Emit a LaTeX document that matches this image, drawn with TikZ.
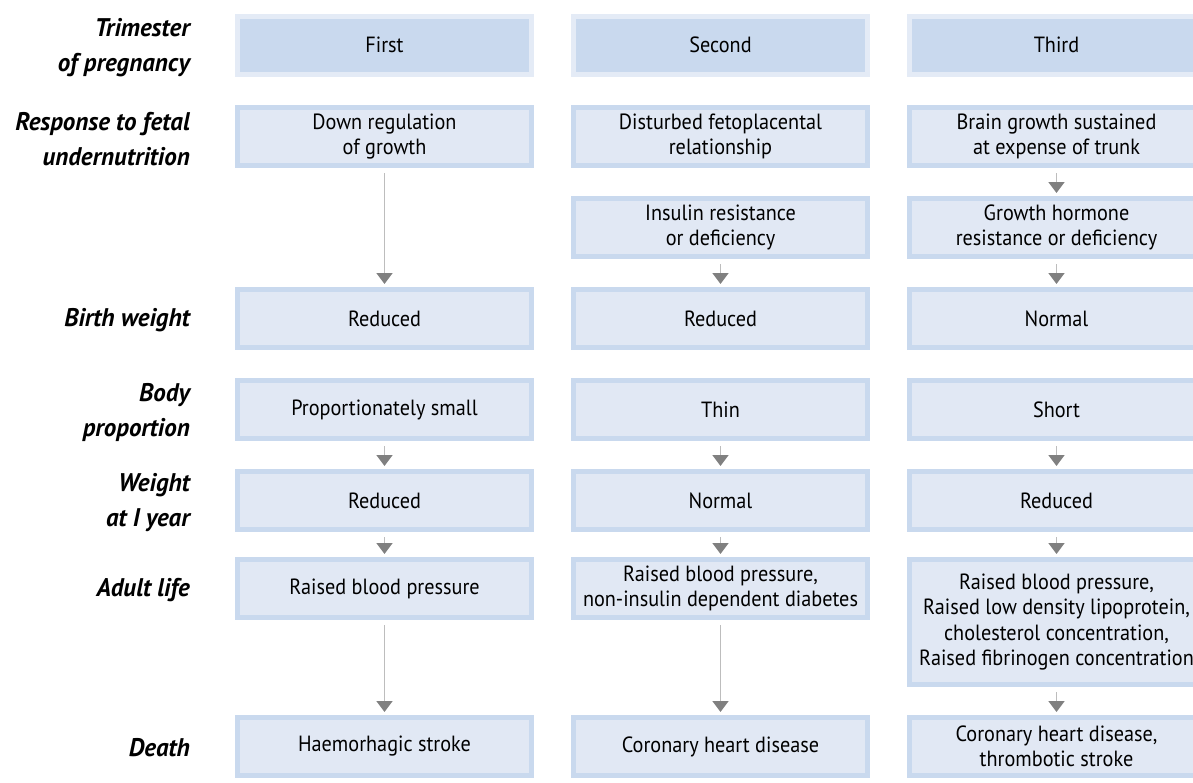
\documentclass[tikz,border=0pt]{standalone}
\usepackage{fontspec}
\setmainfont{PT Sans}[FakeStretch=0.92]
\newfontfamily\lblfont{PT Sans}[FakeStretch=0.98]
\usetikzlibrary{arrows.meta}
\definecolor{hdrfill}{HTML}{C9D9EE}
\definecolor{hdrring}{HTML}{E4EBF6}
\definecolor{cellfill}{HTML}{E1E8F4}
\definecolor{cellring}{HTML}{C9D9EE}
\definecolor{arrline}{HTML}{BDBDBD}
\definecolor{arrhead}{HTML}{808080}
\tikzset{
  basebox/.style={rectangle, minimum width=294pt, minimum height=58pt, line width=5pt,
    align=center, inner sep=0pt, text=black, font=\fontsize{22}{25.5}\selectfont},
  hdr/.style={basebox, fill=hdrfill, draw=hdrring},
  cell/.style={basebox, fill=cellfill, draw=cellring},
  tall/.style={cell, minimum height=125pt},
  lbl/.style={anchor=east, align=right, inner sep=0pt,
    font=\lblfont\fontsize{25.5}{35}\selectfont\bfseries\itshape},
  flow/.style={draw=arrline, line width=1.8pt,
    -{Triangle[width=16pt,length=11pt,color=arrhead]}}
}
\newcommand{\flowarrow}[2]{\draw[flow] ([yshift=-5pt]#1.south) -- ([yshift=3pt]#2.north);}
\begin{document}
\begin{tikzpicture}[x=1pt,y=-1pt]
\useasboundingbox (0,0) rectangle (1193,782);
\clip (0,0) rectangle (1193,782);
% row labels
\node[lbl] (l1) at (190,48) {Trimester\\of pregnancy};
\node[lbl] (l2) at (190,139) {Response to fetal\\undernutrition};
\node[lbl] (l4) at (190,320) {Birth weight};
\node[lbl] (l5) at (190,412) {Body\\proportion};
\node[lbl] (l6) at (190,503) {Weight\\at I year};
\node[lbl] (l7) at (190,590) {Adult life};
\node[lbl] (l8) at (190,748) {Death};
% column 1
\node[hdr]  (a1) at (384.5,45)   {First};
\node[cell] (a2) at (384.5,136.5) {Down regulation\\of growth};
\node[cell] (a4) at (384.5,318.5) {Reduced};
\node[cell] (a5) at (384.5,409.5) {Proportionately small};
\node[cell] (a6) at (384.5,500.5) {Reduced};
\node[cell] (a7) at (384.5,588.5) {Raised blood pressure};
\node[cell] (a8) at (384.5,746.5) {Haemorhagic stroke};
% column 2
\node[hdr]  (b1) at (720.5,45)   {Second};
\node[cell] (b2) at (720.5,136.5) {Disturbed fetoplacental\\relationship};
\node[cell] (b3) at (720.5,227.5) {Insulin resistance\\or deficiency};
\node[cell] (b4) at (720.5,318.5) {Reduced};
\node[cell] (b5) at (720.5,409.5) {Thin};
\node[cell] (b6) at (720.5,500.5) {Normal};
\node[cell] (b7) at (720.5,588.5) {Raised blood pressure,\\non-insulin dependent diabetes};
\node[cell] (b8) at (720.5,746.5) {Coronary heart disease};
% column 3
\node[hdr]  (c1) at (1056.5,45)   {Third};
\node[cell] (c2) at (1056.5,136.5) {Brain growth sustained\\at expense of trunk};
\node[cell] (c3) at (1056.5,227.5) {Growth hormone\\resistance or deficiency};
\node[cell] (c4) at (1056.5,318.5) {Normal};
\node[cell] (c5) at (1056.5,409.5) {Short};
\node[cell] (c6) at (1056.5,500.5) {Reduced};
\node[tall] (c7) at (1056.5,622) {Raised blood pressure,\\Raised low density lipoprotein,\\cholesterol concentration,\\Raised fibrinogen concentration};
\node[cell] (c8) at (1056.5,746.5) {Coronary heart disease,\\thrombotic stroke};
% arrows
\flowarrow{a2}{a4}
\flowarrow{a5}{a6}
\flowarrow{a6}{a7}
\flowarrow{a7}{a8}
\flowarrow{b3}{b4}
\flowarrow{b5}{b6}
\flowarrow{b6}{b7}
\flowarrow{b7}{b8}
\flowarrow{c2}{c3}
\flowarrow{c3}{c4}
\flowarrow{c5}{c6}
\flowarrow{c6}{c7}
\flowarrow{c7}{c8}
\end{tikzpicture}
\end{document}
